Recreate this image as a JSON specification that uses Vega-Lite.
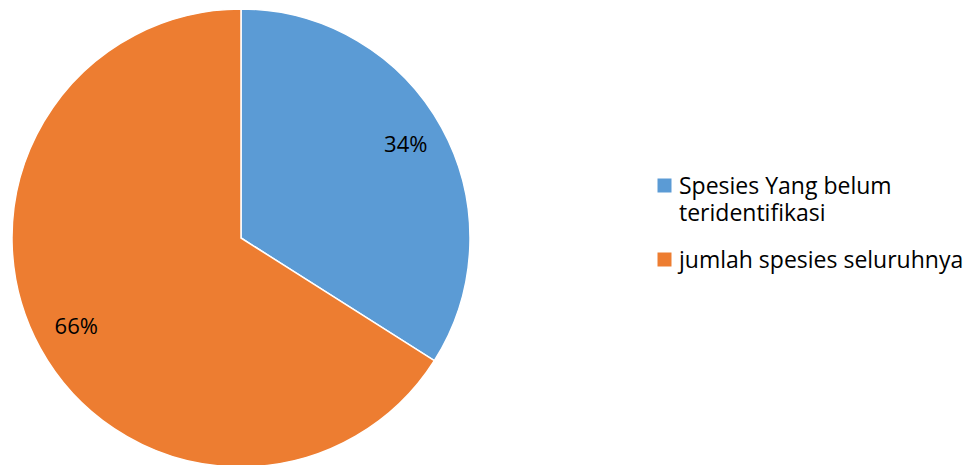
{
  "$schema": "https://vega.github.io/schema/vega-lite/v6.json",
  "width": 482,
  "height": 476,
  "padding": 0,
  "autosize": {"type": "pad"},
  "background": "white",
  "view": {"stroke": null},
  "data": {"values": [
    {"kategori": "Spesies Yang belum teridentifikasi", "nilai": 34, "urut": 1, "label": "34%"},
    {"kategori": "jumlah spesies seluruhnya", "nilai": 66, "urut": 2, "label": "66%"}
  ]},
  "encoding": {
    "theta": {"field": "nilai", "type": "quantitative", "stack": true},
    "order": {"field": "urut", "type": "quantitative"}
  },
  "layer": [
    {
      "mark": {"type": "arc", "outerRadius": 229, "stroke": "white", "strokeWidth": 1.5},
      "encoding": {
        "color": {
          "field": "kategori", "type": "nominal",
          "scale": {"domain": ["Spesies Yang belum teridentifikasi", "jumlah spesies seluruhnya"], "range": ["#5B9BD5", "#ED7D31"]},
          "legend": {
            "title": null,
            "orient": "none",
            "legendX": 653,
            "legendY": 174,
            "padding": 0,
            "symbolType": "square",
            "symbolSize": 196,
            "symbolStrokeWidth": 0,
            "labelFont": "Open Sans",
            "labelFontSize": 23,
            "labelColor": "#000000",
            "labelOffset": 3,
            "labelLimit": 400,
            "labelBaseline": "top",
            "rowPadding": 22,
            "labelExpr": "datum.label == 'Spesies Yang belum teridentifikasi' ? ['Spesies Yang belum', 'teridentifikasi'] : datum.label",
            "encoding": {"labels": {"lineHeight": {"value": 27}, "dy": {"value": -10}}}
          }
        }
      }
    },
    {
      "mark": {"type": "text", "radius": 188, "font": "Open Sans", "fontSize": 22, "color": "#000000", "dy": -2},
      "encoding": {"text": {"field": "label", "type": "nominal"}}
    }
  ]
}
